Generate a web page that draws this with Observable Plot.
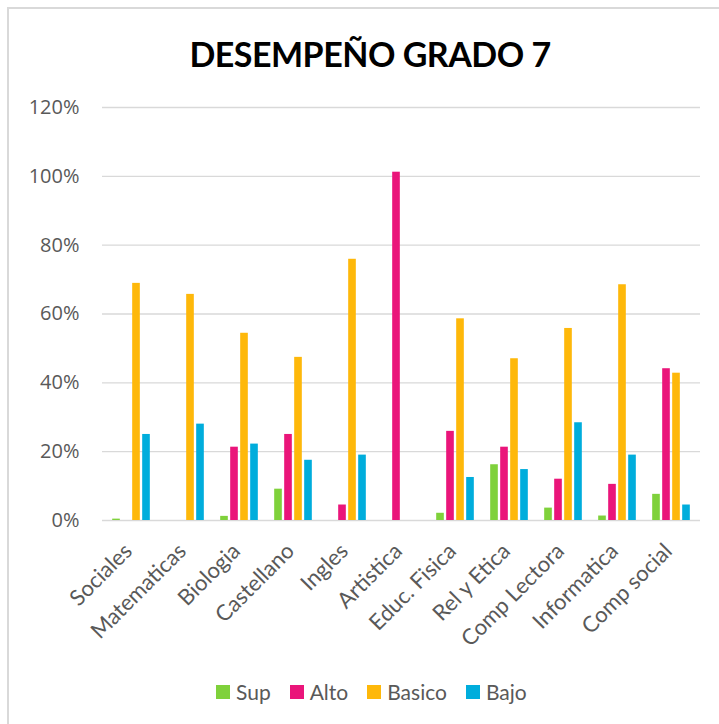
<!DOCTYPE html>
<html>
<head>
<meta charset="utf-8">
<script src="https://cdn.jsdelivr.net/npm/d3@7"></script>
<script src="https://cdn.jsdelivr.net/npm/@observablehq/plot@0.6"></script>
<style>
  html, body { margin: 0; padding: 0; background: #fff; overflow: hidden; }
  #wrap { position: relative; width: 719px; height: 724px; overflow: hidden; font-family: Lato, "Open Sans", sans-serif; }
  #border { position: absolute; left: 7px; top: 7px; width: 900px; height: 900px; border: 2px solid #d9d9d9; box-sizing: border-box; }
  #chart { position: absolute; left: 0; top: 0; }
  #title { position: absolute; left: 0; width: 740px; top: 36.5px; text-align: center; font-size: 34px; line-height: 34px; letter-spacing: -0.5px; font-weight: 700; color: #000; white-space: nowrap; }
  #legend { position: absolute; left: 216px; top: 681px; display: flex; align-items: flex-start; font-size: 21px; line-height: 21px; color: #595959; white-space: nowrap; }
  #legend .item { display: flex; align-items: flex-start; margin-right: 19px; }
  #legend .sw { width: 14px; height: 14px; margin-top: 4px; margin-right: 6px; }
</style>
</head>
<body>
<div id="wrap">
  <div id="border"></div>
  <div id="chart"></div>
  <div id="title">DESEMPEÑO GRADO 7</div>
  <div id="legend"></div>
</div>
<script>
const categories = ["Sociales","Matematicas","Biologia","Castellano","Ingles","Artistica","Educ. Fisica","Rel y Etica","Comp Lectora","Informatica","Comp social"];
const seriesNames = ["Sup","Alto","Basico","Bajo"];
const seriesColors = ["#7FD13B","#EA157A","#FEB80A","#00ADDC"];
const sup    = [0.004, 0,     0.012, 0.091, 0,     0,     0.021, 0.162, 0.036, 0.013, 0.076];
const alto   = [0,     0,     0.213, 0.250, 0.045, 1.012, 0.259, 0.213, 0.120, 0.105, 0.441];
const basico = [0.689, 0.657, 0.544, 0.474, 0.759, 0,     0.586, 0.470, 0.558, 0.685, 0.428];
const bajo   = [0.250, 0.280, 0.222, 0.175, 0.190, 0,     0.125, 0.148, 0.284, 0.190, 0.045];
const yTicks = [0, 0.2, 0.4, 0.6, 0.8, 1.0, 1.2];

const seriesValues = [sup, alto, basico, bajo];

const W = 719, H = 724;
const mL = 102, mR = 19, mT = 107, mB = 204;
const band = (W - mL - mR) / categories.length;
const barW = 8, barStep = 10;
const inset = (band - barW) / 2;

const barMarks = seriesNames.map((name, i) => {
  const rows = categories.map((c, j) => ({cat: c, value: seriesValues[i][j], series: name})).filter(d => d.value > 0);
  return Plot.barY(rows, {
    x: "cat", y: "value", fill: seriesColors[i],
    insetLeft: inset, insetRight: inset, dx: (i - 1.5) * barStep
  });
});

const chart = Plot.plot({
  width: W, height: H,
  marginLeft: mL, marginRight: mR, marginTop: mT, marginBottom: mB,
  style: {fontFamily: "Lato, 'Open Sans', sans-serif", fontSize: "21px", color: "#595959", background: "transparent"},
  x: {domain: categories, padding: 0, label: null},
  y: {domain: [0, 1.2], label: null, axis: null},
  marks: [
    Plot.ruleY(yTicks, {stroke: "#d9d9d9", strokeWidth: 1.4}),
    ...barMarks,
    Plot.text(yTicks, {
      y: d => d, text: d => d3.format(".0%")(d),
      frameAnchor: "left", textAnchor: "end", dx: -23,
      fontSize: 20, fontFamily: "'Open Sans', Lato, sans-serif", fill: "#595959"
    }),
    Plot.axisX({tickRotate: -45, tickSize: 0, tickPadding: 25, dx: -3, dy: 2, label: null, fill: "#595959", fontSize: 22})
  ]
});
document.getElementById("chart").appendChild(chart);

const legend = document.getElementById("legend");
seriesNames.forEach((name, i) => {
  const item = document.createElement("div");
  item.className = "item";
  const sw = document.createElement("div");
  sw.className = "sw";
  sw.style.background = seriesColors[i];
  const t = document.createElement("span");
  t.textContent = name;
  item.appendChild(sw); item.appendChild(t);
  legend.appendChild(item);
});
</script>
</body>
</html>
